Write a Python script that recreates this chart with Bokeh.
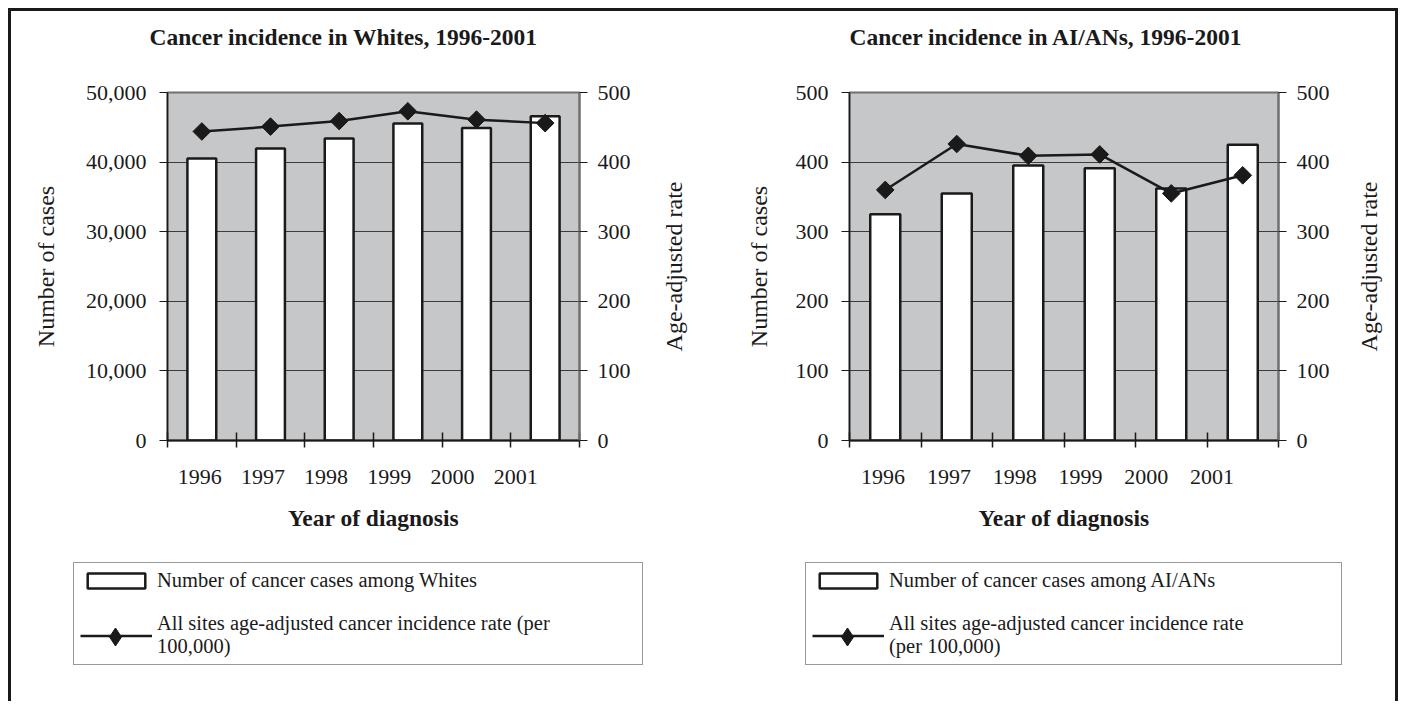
import math
from bokeh.plotting import figure
from bokeh.layouts import row, column
from bokeh.models import (Range1d, LinearAxis, FixedTicker, SingleIntervalTicker, Title,
                          NumeralTickFormatter, CustomJSTickFormatter, Legend, LegendItem)
from bokeh.embed import file_html
from bokeh.resources import INLINE

# ---------------- data ----------------
YEARS = ["1996", "1997", "1998", "1999", "2000", "2001"]
WHITE_CASES = [40500, 41950, 43400, 45550, 44900, 46600]
WHITE_RATE = [444, 451, 459, 473, 461, 456]
AIAN_CASES = [325, 355, 395, 391, 362, 425]
AIAN_RATE = [360, 426, 409, 411, 355, 381]

TITLES = ["Cancer incidence in Whites, 1996-2001", "Cancer incidence in AI/ANs, 1996-2001"]
LEG_BARS = ["Number of cancer cases among Whites", "Number of cancer cases among AI/ANs"]
LEG_LINE = ["All sites age-adjusted cancer incidence rate (per\n100,000)",
            "All sites age-adjusted cancer incidence rate\n(per 100,000)"]
RATE_LABEL = "Age-adjusted rate"

FONT = "Liberation Serif"
INK = "#1a1a1a"
BG = "#c6c7c9"

BAR_STYLE = dict(width=0.42, bottom=0, fill_color="white", line_color=INK, line_width=2.5)
LINE_STYLE = dict(line_color=INK, line_width=2.5)
PT_STYLE = dict(marker="square", angle=math.pi / 4, size=12.5, fill_color=INK, line_color=INK)
CH_H, TOP, BOTTOM = 540, 81, 111


def make_chart(title, cases, rate, y_max, y_step, fmt, width, left, right, title_offset,
               ylab_standoff):
    n = len(YEARS)
    xs = list(range(n))
    p = figure(width=width, height=CH_H, x_range=Range1d(-0.5, n - 0.5),
               y_range=Range1d(0, y_max), output_backend="svg", toolbar_location=None,
               title=None,
               min_border_left=left, min_border_right=right, min_border_top=TOP,
               min_border_bottom=BOTTOM, background_fill_color=BG, border_fill_color="white",
               outline_line_color="#707070", outline_line_width=2)
    p.extra_y_ranges = {"rate": Range1d(0, 500)}

    # title (a blank spacer sits between the title and the plot area)
    p.add_layout(Title(text=" ", text_font_size="36px", standoff=0), "above")
    p.add_layout(Title(text=title, text_font=FONT, text_font_style="bold",
                       text_font_size="23.5px", text_color=INK, align="left",
                       offset=title_offset, standoff=0), "above")

    p.vbar(x=xs, top=cases, **BAR_STYLE)
    p.line(x=xs, y=rate, y_range_name="rate", **LINE_STYLE)
    p.scatter(x=xs, y=rate, y_range_name="rate", **PT_STYLE)

    # grid
    p.xgrid.visible = False
    p.ygrid.ticker = SingleIntervalTicker(interval=y_step)
    p.ygrid.grid_line_color = "#3c3c3c"
    p.ygrid.grid_line_width = 1

    # x axis: boundary tick marks (minor) + shifted year labels (major)
    xa = p.xaxis[0]
    lab_pos = [round(-0.03 + 0.92 * i, 2) for i in range(n)]
    xa.ticker = FixedTicker(ticks=lab_pos, minor_ticks=[i - 0.5 for i in range(n + 1)])
    xa.formatter = CustomJSTickFormatter(args=dict(labels=YEARS), code="return labels[index];")
    xa.major_tick_in = 0
    xa.major_tick_out = 0
    xa.minor_tick_in = 8
    xa.minor_tick_out = 7
    xa.minor_tick_line_color = INK
    xa.minor_tick_line_width = 1.5
    xa.axis_line_color = INK
    xa.axis_line_width = 2
    xa.major_label_standoff = 22
    xa.major_label_text_font = FONT
    xa.major_label_text_font_size = "22px"
    xa.major_label_text_color = INK
    xa.axis_label = "Year of diagnosis"
    xa.axis_label_text_font = FONT
    xa.axis_label_text_font_style = "bold"
    xa.axis_label_text_font_size = "23.5px"
    xa.axis_label_text_color = INK
    xa.axis_label_standoff = 18

    # left axis
    ya = p.yaxis[0]
    ya.ticker = SingleIntervalTicker(interval=y_step)
    ya.formatter = NumeralTickFormatter(format=fmt)
    ya.major_tick_in = 0
    ya.major_tick_out = 8
    ya.major_tick_line_color = INK
    ya.minor_tick_line_color = None
    ya.axis_line_color = INK
    ya.axis_line_width = 1.5
    ya.major_label_standoff = 13
    ya.major_label_text_font = FONT
    ya.major_label_text_font_size = "22px"
    ya.major_label_text_color = INK
    ya.axis_label = "Number of cases"
    ya.axis_label_text_font = FONT
    ya.axis_label_text_font_style = "normal"
    ya.axis_label_text_font_size = "24px"
    ya.axis_label_text_color = INK
    ya.axis_label_standoff = ylab_standoff

    # right axis (its title is drawn by the narrow strip next to the chart)
    ra = LinearAxis(y_range_name="rate", ticker=SingleIntervalTicker(interval=100))
    ra.major_tick_in = 0
    ra.major_tick_out = 8
    ra.major_tick_line_color = INK
    ra.minor_tick_line_color = None
    ra.axis_line_color = "#707070"
    ra.axis_line_width = 2
    ra.major_label_standoff = 10
    ra.major_label_text_font = FONT
    ra.major_label_text_font_size = "22px"
    ra.major_label_text_color = INK
    p.add_layout(ra, "right")
    return p


def make_rate_title(width, border_left):
    t = figure(width=width, height=CH_H, x_range=Range1d(0, 1), y_range=Range1d(0, 500),
               x_axis_type=None, output_backend="svg", toolbar_location=None, title=None,
               min_border_left=border_left, min_border_right=0, min_border_top=TOP,
               min_border_bottom=BOTTOM, outline_line_color=None,
               background_fill_color="white", border_fill_color="white")
    t.xgrid.visible = False
    t.ygrid.visible = False
    a = t.yaxis[0]
    a.ticker = FixedTicker(ticks=[])
    a.axis_line_color = None
    a.major_tick_line_color = None
    a.minor_tick_line_color = None
    a.major_tick_out = 0
    a.major_label_standoff = 0
    a.axis_label = RATE_LABEL
    a.axis_label_standoff = 0
    a.axis_label_text_font = FONT
    a.axis_label_text_font_style = "normal"
    a.axis_label_text_font_size = "24px"
    a.axis_label_text_color = INK
    return t


p1 = make_chart(TITLES[0], WHITE_CASES, WHITE_RATE, 50000, 10000, "0,0", width=639,
                left=156, right=71, title_offset=-18, ylab_standoff=24)
t1 = make_rate_title(50, 36)
p2 = make_chart(TITLES[1], AIAN_CASES, AIAN_RATE, 500, 100, "0", width=645,
                left=149, right=67, title_offset=0, ylab_standoff=21)
t2 = make_rate_title(50, 36)

# ---------------- legends (one strip under both charts) ----------------
LH = 150
lp = figure(width=1384, height=LH, x_range=Range1d(100, 101), y_range=Range1d(0, 1),
            x_axis_type=None, y_axis_type=None, output_backend="svg", toolbar_location=None,
            min_border=0, outline_line_color=None,
            background_fill_color="white", border_fill_color="white")
lp.extra_y_ranges = {"rate": Range1d(0, 500)}
lp.xgrid.visible = False
lp.ygrid.visible = False

LEG_COMMON = dict(orientation="vertical", margin=0, glyph_width=72, label_standoff=5,
                  label_text_font=FONT, label_text_font_size="20.5px", label_text_color=INK,
                  label_text_line_height=1.05, inactive_fill_alpha=0)

for cases, rate, bar_label, line_label, lx, lw in [
        (WHITE_CASES, WHITE_RATE, LEG_BARS[0], LEG_LINE[0], 62, 479),
        (AIAN_CASES, AIAN_RATE, LEG_BARS[1], LEG_LINE[1], 794, 446)]:
    xs = list(range(len(YEARS)))
    hb = lp.vbar(x=xs, top=cases, visible=False, **BAR_STYLE)
    hl = lp.line(x=xs, y=rate, y_range_name="rate", visible=False, **LINE_STYLE)
    hd = lp.scatter(x=xs, y=rate, y_range_name="rate", visible=False, marker="diamond",
                    fill_color=INK, line_color=INK)
    main = Legend(items=[LegendItem(label=bar_label, renderers=[hb]),
                         LegendItem(label=line_label, renderers=[hl])],
                  location=(lx, 36), glyph_height=19, label_width=lw, label_height=22,
                  padding=6, spacing=20, border_line_color="#333333", border_line_width=1,
                  background_fill_color="white", background_fill_alpha=1, **LEG_COMMON)
    lp.add_layout(main, "center")
    dia = Legend(items=[LegendItem(label=" ", renderers=[hd])],
                 location=(lx + 6, 42.5), glyph_height=45, label_width=5, label_height=22,
                 padding=0, spacing=0, border_line_color=None,
                 background_fill_alpha=0, **LEG_COMMON)
    lp.add_layout(dia, "center")

layout = column(row(p1, t1, p2, t2), lp,
                styles={"border-top": "3px solid #1a1a1a",
                        "border-left": "3px solid #1a1a1a",
                        "border-right": "3px solid #1a1a1a",
                        "margin-left": "8px", "margin-top": "8px"})

open("out.html", "w").write(file_html(layout, INLINE, title="Cancer incidence"))
